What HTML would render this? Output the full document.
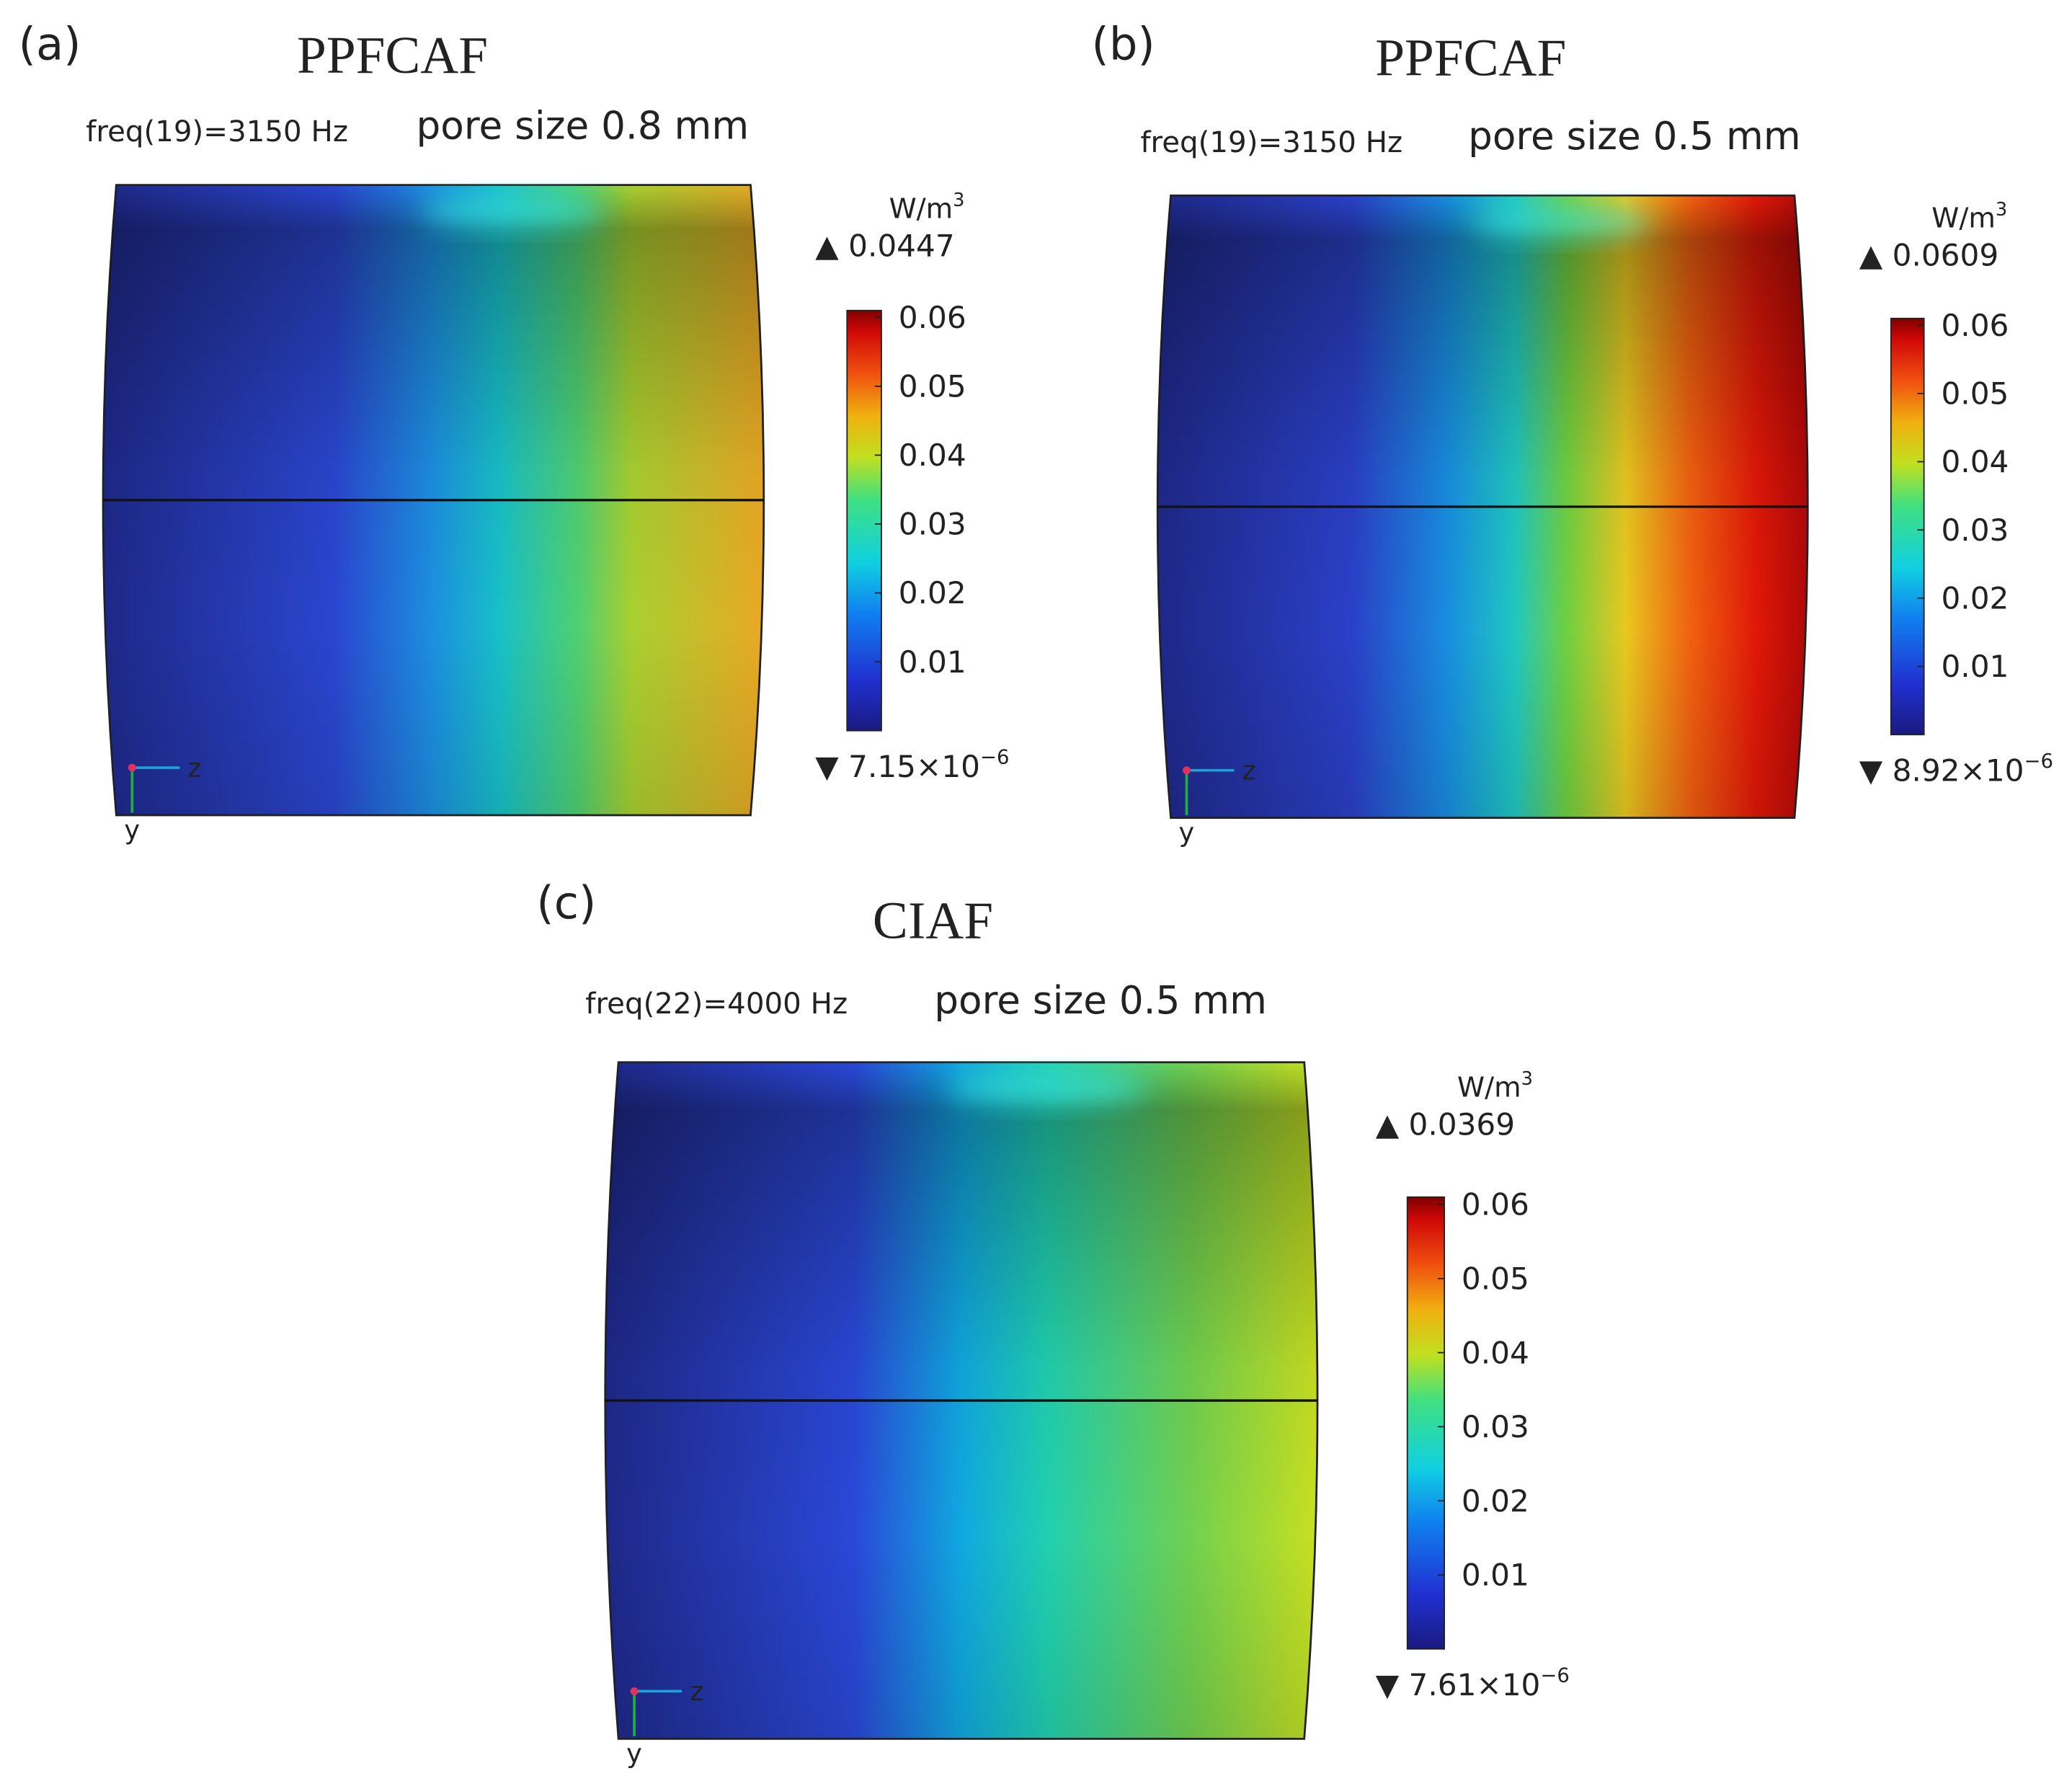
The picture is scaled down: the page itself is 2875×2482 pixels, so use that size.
<!DOCTYPE html>
<html><head><meta charset="utf-8"><style>
html,body{margin:0;padding:0;background:#fff;}
svg{display:block;}
text{font-family:"DejaVu Sans","Liberation Sans",sans-serif;fill:#222;}
.serif{font-family:"Liberation Serif",serif;}
</style></head><body>
<svg id="fig" width="2875" height="2482" viewBox="0 0 1568 1354" preserveAspectRatio="none" xmlns="http://www.w3.org/2000/svg">
<defs>
<filter id="blur" x="-50%" y="-50%" width="200%" height="200%"><feGaussianBlur stdDeviation="10"/></filter>
<linearGradient id="jet" x1="0" y1="1" x2="0" y2="0">
<stop offset="0" stop-color="#1a1a80"/><stop offset="0.12" stop-color="#2030d0"/><stop offset="0.28" stop-color="#1080f0"/><stop offset="0.4" stop-color="#10d0e0"/><stop offset="0.55" stop-color="#40e080"/><stop offset="0.65" stop-color="#c0e020"/><stop offset="0.75" stop-color="#f0b010"/><stop offset="0.85" stop-color="#f05010"/><stop offset="0.95" stop-color="#d00808"/><stop offset="1" stop-color="#800000"/>
</linearGradient>
<linearGradient id="ga" x1="0" y1="0" x2="1" y2="0">
<stop offset="0" stop-color="#1e2888"/><stop offset="0.35" stop-color="#2a46d0"/><stop offset="0.5" stop-color="#1c90e0"/><stop offset="0.6" stop-color="#18c0c8"/><stop offset="0.72" stop-color="#50d070"/><stop offset="0.8" stop-color="#a8d030"/><stop offset="1" stop-color="#eaa824"/>
</linearGradient>
<linearGradient id="gb" x1="0" y1="0" x2="1" y2="0">
<stop offset="0" stop-color="#1e2888"/><stop offset="0.3" stop-color="#2a40c8"/><stop offset="0.45" stop-color="#1890e0"/><stop offset="0.55" stop-color="#20c8c0"/><stop offset="0.63" stop-color="#70d040"/><stop offset="0.72" stop-color="#e8c820"/><stop offset="0.82" stop-color="#f06010"/><stop offset="0.92" stop-color="#e01808"/><stop offset="1" stop-color="#b00808"/>
</linearGradient>
<linearGradient id="gc" x1="0" y1="0" x2="1" y2="0">
<stop offset="0" stop-color="#1e2888"/><stop offset="0.35" stop-color="#2a48d8"/><stop offset="0.5" stop-color="#10a8e0"/><stop offset="0.62" stop-color="#20d0b0"/><stop offset="0.82" stop-color="#70d050"/><stop offset="1" stop-color="#c8e020"/>
</linearGradient>
<linearGradient id="shade" x1="0" y1="0" x2="0" y2="1">
<stop offset="0" stop-color="#000" stop-opacity="0"/><stop offset="0.07" stop-color="#000" stop-opacity="0.3"/><stop offset="0.45" stop-color="#000" stop-opacity="0.04"/><stop offset="0.7" stop-color="#000" stop-opacity="0"/><stop offset="1" stop-color="#000" stop-opacity="0.1"/>
</linearGradient>
</defs>
<g id="panels"></g>
</svg>
<script>
var ticks=[0.01,0.02,0.03,0.04,0.05,0.06];
var cbMin=0, cbMax=0.061;
var panelLabels=["(a)","(b)","(c)"];
var titles=["PPFCAF","PPFCAF","CIAF"];
var freqs=["freq(19)=3150 Hz","freq(19)=3150 Hz","freq(22)=4000 Hz"];
var pores=["pore size 0.8 mm","pore size 0.5 mm","pore size 0.5 mm"];
var maxVals=["0.0447","0.0609","0.0369"];
var minVals=["7.15","8.92","7.61"];
var P=[
 {lx:14,ly:45,tx:297,ty:55,fx:65,fy:107,px:315,py:105,cx:78,cy:140,cw:500,ch:477,grad:'ga',bx:641,by:235,bw:26,bh:318,ux:730,uy:165},
 {lx:826,ly:45,tx:1113,ty:57,fx:863,fy:115,px:1111,py:113,cx:876,cy:148,cw:492,ch:471,grad:'gb',bx:1431,by:241,bw:25,bh:315,ux:1519,uy:172},
 {lx:406,ly:695,tx:706,ty:710,fx:443,fy:767,px:707,py:767,cx:458,cy:804,cw:539,ch:512,grad:'gc',bx:1065,by:906,bw:28,bh:342,ux:1160,uy:830}
];
var NS="http://www.w3.org/2000/svg";
var root=document.getElementById('panels');
function el(tag,attrs,parent,txt){var e=document.createElementNS(NS,tag);for(var k in attrs)e.setAttribute(k,attrs[k]);if(txt!==undefined)e.textContent=txt;(parent||root).appendChild(e);return e;}
P.forEach(function(p,i){
 var g=el('g',{});
 
 
 var t=el('text',{x:p.lx,y:p.ly,'font-size':34,'font-family':'Liberation Sans,sans-serif'},g,panelLabels[i]);
 
 t=el('text',{x:p.tx,y:p.ty,'font-size':40,'text-anchor':'middle','class':'serif'},g,titles[i]);
 
 t=el('text',{x:p.fx,y:p.fy,'font-size':22},g,freqs[i]);
 
 t=el('text',{x:p.px,y:p.py,'font-size':29,'fill':'#444','font-family':'Liberation Sans,sans-serif'},g,pores[i]);
 
 var x0=p.cx,y0=p.cy,w=p.cw,h=p.ch,b=10;
 var d='M'+(x0+b)+','+y0+' L'+(x0+w-b)+','+y0+' Q'+(x0+w+b)+','+(y0+h/2)+' '+(x0+w-b)+','+(y0+h)+' L'+(x0+b)+','+(y0+h)+' Q'+(x0-b)+','+(y0+h/2)+' '+(x0+b)+','+y0+' Z';
 var c=el('path',{d:d,fill:'url(#'+p.grad+')',stroke:'#222','stroke-width':1.5},g);
 
 el('path',{d:d,fill:'url(#shade)'},g);
 el('ellipse',{cx:x0+w*0.62,cy:y0+20,rx:w*0.14,ry:12,fill:'#40ffff','fill-opacity':0.55,filter:'url(#blur)'},g);
 var l=el('line',{x1:x0,x2:x0+w,y1:y0+h/2,y2:y0+h/2,stroke:'#111','stroke-width':1.8},g);
 
 var ax=x0+22,ay=y0+h-36;
 var tr=el('g',{},g);
 el('line',{x1:ax,y1:ay,x2:ax+36,y2:ay,stroke:'#1ea0d8','stroke-width':2},tr);
 el('line',{x1:ax,y1:ay,x2:ax,y2:ay+34,stroke:'#20b040','stroke-width':2},tr);
 el('circle',{cx:ax,cy:ay,r:3,fill:'#e03060'},tr);
 el('text',{x:ax+42,y:ay+7,'font-size':20,'fill':'#222'},tr,'z');
 el('text',{x:ax-6,y:ay+54,'font-size':20,'fill':'#222'},tr,'y');
 var cb=el('g',{},g);
 el('rect',{x:p.bx,y:p.by,width:p.bw,height:p.bh,fill:'url(#jet)',stroke:'#222','stroke-width':1},cb);
 function sy(v){return p.by+p.bh-(v-cbMin)/(cbMax-cbMin)*p.bh;}
 ticks.forEach(function(v){
  var y=sy(v);
  el('line',{x1:p.bx+p.bw-5,x2:p.bx+p.bw,y1:y,y2:y,stroke:'#222'},cb);
  var tt=el('text',{x:p.bx+p.bw+13,y:y+8,'font-size':23},cb,v.toFixed(2));
  
 });
 var u=el('text',{x:p.ux,y:p.uy,'font-size':21,'text-anchor':'end'},g);
 
 u.textContent='W/m';el('tspan',{dy:-9,'font-size':14},u,'3');
 var mx=el('text',{x:p.bx-24,y:p.uy+29,'font-size':23},g,'\u25B2 '+maxVals[i]);
 
 var mn=el('text',{x:p.bx-24,y:p.by+p.bh+35,'font-size':23},g,'\u25BC '+minVals[i]+'\u00D710');
 el('tspan',{dy:-10,'font-size':15},mn,'\u22126');
 
});
</script>
</body></html>
